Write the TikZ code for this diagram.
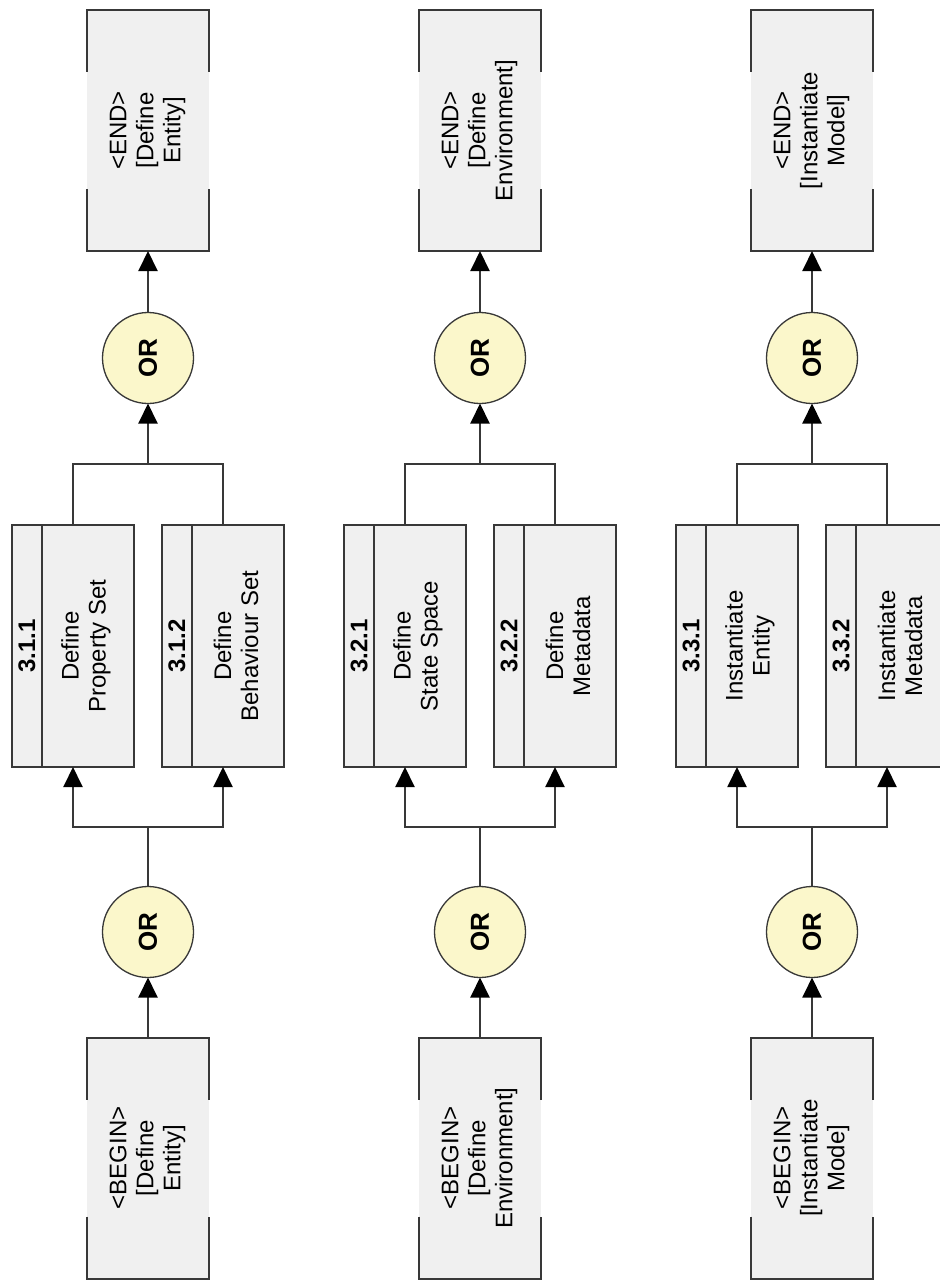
\documentclass[tikz,border=0pt]{standalone}
\usepackage{fontspec}
\setmainfont{Liberation Sans}
\usetikzlibrary{arrows.meta,calc}

\definecolor{boxfill}{HTML}{F0F0F0}
\definecolor{orfill}{HTML}{FBF7CB}
\definecolor{ink}{HTML}{383838}

\tikzset{
  lbl/.style={rotate=90, align=center, inner sep=0pt, font=\fontsize{24}{27}\selectfont},
  numlbl/.style={rotate=90, inner sep=0pt, font=\bfseries\fontsize{24}{27}\selectfont},
  procbox/.style={rectangle, draw=ink, line width=2pt, fill=boxfill,
    minimum width=122pt, minimum height=242pt, inner sep=0pt, outer sep=0pt},
  termbox/.style={rectangle, fill=boxfill, minimum width=122pt, minimum height=241pt,
    inner sep=0pt, outer sep=0pt, font=\fontsize{24}{27}\selectfont},
  orgate/.style={circle, draw=ink, line width=1.3pt, fill=orfill, minimum size=91pt,
    inner sep=0pt, outer sep=0pt, font=\bfseries\fontsize{26}{26}\selectfont},
  link/.style={draw=ink, line width=2pt, line join=miter},
  flow/.style={link, -{Triangle[length=20pt,width=19pt,color=black]}},
}

% open-sided frame of a BEGIN/END terminal
\newcommand\termframe[1]{%
  \draw[link] ([yshift=-62pt]#1.north west) -- (#1.north west) -- (#1.north east) -- ([yshift=-62pt]#1.north east);
  \draw[link] ([yshift=62pt]#1.south west) -- (#1.south west) -- (#1.south east) -- ([yshift=62pt]#1.south east);}

% numbered process box: number strip on the left, title in the main part
\newcommand\procstrip[3]{%
  \draw[link] ([xshift=30pt]#1.north west) -- ([xshift=30pt]#1.south west);
  \node[numlbl] (#1n) at ($(#1.west)+(15,0)$) {#2};
  \node[lbl] (#1t) at ($(#1.center)+(13,0)$) {#3};}

\begin{document}
\begin{tikzpicture}[x=1pt,y=-1pt]
\useasboundingbox (0,0) rectangle (939,1281);

% ---------- column 1: Define Entity ----------
\node[termbox] (e1) at (148,130.5) {\rotatebox{90}{\begin{tabular}{@{}c@{}}<END>\\{}[Define\\Entity]\end{tabular}}};
\termframe{e1}
\node[orgate] (ou1) at (148,358) {\rotatebox{90}{OR}};
\coordinate (jt1) at (148,464);
\node[procbox] (p11) at (73,646) {};
\procstrip{p11}{3.1.1}{Define\\Property Set}
\node[procbox] (p12) at (223,646) {};
\procstrip{p12}{3.1.2}{Define\\Behaviour Set}
\coordinate (jb1) at (148,827);
\node[orgate] (ol1) at (148,932) {\rotatebox{90}{OR}};
\node[termbox] (b1) at (148,1158) {\rotatebox{90}{\begin{tabular}{@{}c@{}}<BEGIN>\\{}[Define\\Entity]\end{tabular}}};
\termframe{b1}

\draw[flow] (b1.north) -- (ol1.south);
\draw[link] (ol1.north) -- (jb1);
\draw[flow] (jb1) -| (p11.south);
\draw[flow] (jb1) -| (p12.south);
\draw[link] (p11.north) |- (jt1);
\draw[link] (p12.north) |- (jt1);
\draw[flow] (jt1) -- (ou1.south);
\draw[flow] (ou1.north) -- (e1.south);

% ---------- column 2: Define Environment ----------
\node[termbox] (e2) at (480,130.5) {\rotatebox{90}{\begin{tabular}{@{}c@{}}<END>\\{}[Define\\Environment]\end{tabular}}};
\termframe{e2}
\node[orgate] (ou2) at (480,358) {\rotatebox{90}{OR}};
\coordinate (jt2) at (480,464);
\node[procbox] (p21) at (405,646) {};
\procstrip{p21}{3.2.1}{Define\\State Space}
\node[procbox] (p22) at (555,646) {};
\procstrip{p22}{3.2.2}{Define\\Metadata}
\coordinate (jb2) at (480,827);
\node[orgate] (ol2) at (480,932) {\rotatebox{90}{OR}};
\node[termbox] (b2) at (480,1158) {\rotatebox{90}{\begin{tabular}{@{}c@{}}<BEGIN>\\{}[Define\\Environment]\end{tabular}}};
\termframe{b2}

\draw[flow] (b2.north) -- (ol2.south);
\draw[link] (ol2.north) -- (jb2);
\draw[flow] (jb2) -| (p21.south);
\draw[flow] (jb2) -| (p22.south);
\draw[link] (p21.north) |- (jt2);
\draw[link] (p22.north) |- (jt2);
\draw[flow] (jt2) -- (ou2.south);
\draw[flow] (ou2.north) -- (e2.south);

% ---------- column 3: Instantiate Model ----------
\node[termbox] (e3) at (812,130.5) {\rotatebox{90}{\begin{tabular}{@{}c@{}}<END>\\{}[Instantiate\\Model]\end{tabular}}};
\termframe{e3}
\node[orgate] (ou3) at (812,358) {\rotatebox{90}{OR}};
\coordinate (jt3) at (812,464);
\node[procbox] (p31) at (737,646) {};
\procstrip{p31}{3.3.1}{Instantiate\\Entity}
\node[procbox] (p32) at (887,646) {};
\procstrip{p32}{3.3.2}{Instantiate\\Metadata}
\coordinate (jb3) at (812,827);
\node[orgate] (ol3) at (812,932) {\rotatebox{90}{OR}};
\node[termbox] (b3) at (812,1158) {\rotatebox{90}{\begin{tabular}{@{}c@{}}<BEGIN>\\{}[Instantiate\\Mode]\end{tabular}}};
\termframe{b3}

\draw[flow] (b3.north) -- (ol3.south);
\draw[link] (ol3.north) -- (jb3);
\draw[flow] (jb3) -| (p31.south);
\draw[flow] (jb3) -| (p32.south);
\draw[link] (p31.north) |- (jt3);
\draw[link] (p32.north) |- (jt3);
\draw[flow] (jt3) -- (ou3.south);
\draw[flow] (ou3.north) -- (e3.south);
\end{tikzpicture}
\end{document}
